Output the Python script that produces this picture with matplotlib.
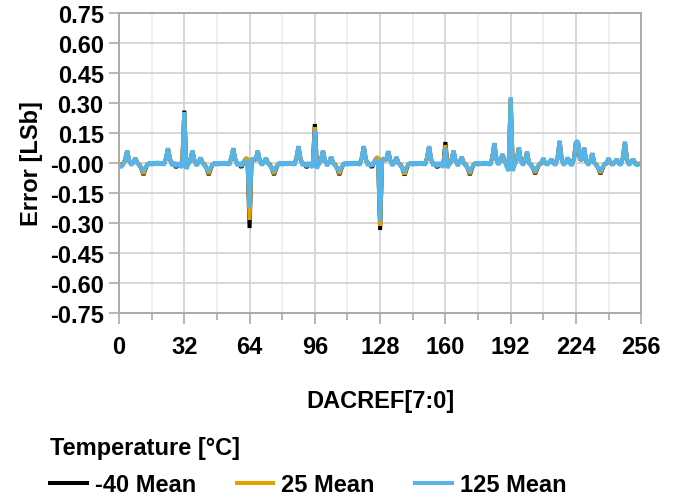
import matplotlib
matplotlib.use("Agg")
import matplotlib.pyplot as plt
import numpy as np
from matplotlib.ticker import MultipleLocator

plt.rcParams["font.family"] = ["Liberation Sans", "DejaVu Sans"]
plt.rcParams["font.weight"] = "bold"

FS = 17

# DACREF codes 0..255
codes = np.arange(256)

# 125 C mean error (top layer), one row per 32 codes
t125 = [
    -0.015, -0.020, -0.010, 0.020, 0.062, 0.015, -0.012, 0.004, 0.025, 0.000, -0.014, -0.028, -0.040, -0.020, -0.008, 0.004,
    -0.012, 0.005, -0.010, 0.006, -0.008, 0.004, -0.012, 0.025, 0.075, 0.020, -0.014, 0.004, -0.018, 0.002, -0.014, -0.022,
    0.255, -0.030, -0.006, 0.020, 0.062, 0.010, -0.015, 0.004, 0.028, -0.004, -0.014, -0.030, -0.042, -0.020, -0.008, 0.004,
    -0.012, 0.004, -0.010, 0.005, -0.008, 0.004, -0.012, 0.025, 0.075, 0.020, -0.014, 0.002, -0.016, 0.006, 0.016, -0.008,
    -0.220, 0.015, 0.022, 0.015, 0.062, 0.012, -0.012, 0.004, 0.026, -0.002, -0.014, -0.028, -0.042, -0.020, -0.008, 0.004,
    -0.012, 0.005, -0.010, 0.005, -0.008, 0.004, -0.012, 0.028, 0.085, 0.022, -0.014, 0.003, -0.018, 0.003, -0.014, -0.022,
    0.165, -0.028, -0.006, 0.020, 0.062, 0.010, -0.015, 0.004, 0.032, -0.004, -0.014, -0.030, -0.042, -0.020, -0.008, 0.004,
    -0.012, 0.004, -0.010, 0.005, -0.008, 0.004, -0.012, 0.028, 0.085, 0.020, -0.014, 0.002, -0.016, 0.006, 0.018, -0.006,
    -0.290, 0.020, 0.015, 0.018, 0.060, 0.012, -0.014, 0.004, 0.030, -0.002, -0.014, -0.028, -0.045, -0.020, -0.008, 0.004,
    -0.012, 0.005, -0.010, 0.004, -0.008, 0.004, -0.012, 0.028, 0.085, 0.020, -0.014, 0.003, -0.018, 0.003, -0.014, -0.020,
    0.075, -0.025, -0.006, 0.020, 0.062, 0.010, -0.015, 0.004, 0.032, -0.004, -0.014, -0.030, -0.045, -0.020, -0.008, 0.004,
    -0.012, 0.004, -0.010, 0.005, -0.008, 0.004, -0.012, 0.030, 0.100, 0.020, -0.010, 0.020, 0.045, 0.010, -0.020, -0.040,
    0.330, -0.040, -0.010, 0.020, 0.078, 0.012, -0.012, 0.010, 0.057, 0.000, -0.014, -0.028, -0.040, -0.020, -0.008, 0.004,
    0.024, 0.000, -0.010, 0.006, 0.020, 0.000, -0.012, 0.030, 0.112, 0.020, -0.012, 0.004, 0.028, 0.000, -0.014, 0.020,
    0.108, 0.108, 0.015, 0.020, 0.078, 0.010, -0.012, 0.010, 0.050, 0.000, -0.014, -0.028, -0.040, -0.020, -0.008, 0.004,
    0.024, -0.002, -0.010, 0.004, 0.020, 0.000, -0.012, 0.028, 0.107, 0.020, -0.012, 0.004, 0.020, -0.004, -0.012, -0.006,
]

# 25 C mean error
t25 = [
    -0.004, -0.008, -0.004, 0.015, 0.060, 0.012, -0.004, 0.002, 0.024, 0.000, -0.008, -0.025, -0.055, -0.025, -0.006, -0.002,
    -0.004, -0.002, -0.004, -0.002, -0.004, -0.002, -0.004, 0.022, 0.072, 0.018, -0.004, -0.006, -0.015, -0.006, -0.004, -0.008,
    0.255, -0.010, -0.004, 0.015, 0.060, 0.010, -0.004, 0.002, 0.026, 0.000, -0.008, -0.025, -0.055, -0.025, -0.006, -0.002,
    -0.004, -0.002, -0.004, -0.002, -0.004, -0.002, -0.004, 0.022, 0.072, 0.018, -0.004, -0.006, -0.015, 0.005, 0.022, 0.026,
    -0.285, 0.022, 0.018, 0.015, 0.060, 0.012, -0.004, 0.002, 0.024, 0.000, -0.008, -0.025, -0.055, -0.025, -0.006, -0.002,
    -0.004, -0.002, -0.004, -0.002, -0.004, -0.002, -0.004, 0.025, 0.082, 0.018, -0.004, -0.006, -0.015, -0.006, -0.004, -0.008,
    0.180, -0.010, -0.004, 0.015, 0.060, 0.010, -0.004, 0.002, 0.030, 0.000, -0.008, -0.025, -0.055, -0.025, -0.006, -0.002,
    -0.004, -0.002, -0.004, -0.002, -0.004, -0.002, -0.004, 0.025, 0.082, 0.018, -0.004, -0.006, -0.015, 0.005, 0.025, 0.030,
    -0.315, 0.025, 0.018, 0.015, 0.058, 0.012, -0.004, 0.002, 0.028, 0.000, -0.008, -0.025, -0.058, -0.025, -0.006, -0.002,
    -0.004, -0.002, -0.004, -0.002, -0.004, -0.002, -0.004, 0.025, 0.082, 0.018, -0.004, -0.006, -0.015, -0.006, -0.004, -0.008,
    0.090, -0.010, -0.004, 0.015, 0.060, 0.010, -0.004, 0.002, 0.030, 0.000, -0.008, -0.025, -0.055, -0.025, -0.006, -0.002,
    -0.004, -0.002, -0.004, -0.002, -0.004, -0.002, -0.004, 0.028, 0.097, 0.018, -0.004, 0.018, 0.043, 0.008, -0.006, -0.012,
    0.325, -0.012, -0.004, 0.018, 0.075, 0.012, -0.004, 0.008, 0.055, 0.000, -0.008, -0.025, -0.050, -0.025, -0.006, -0.002,
    0.022, -0.002, -0.004, 0.004, 0.018, -0.002, -0.004, 0.028, 0.108, 0.018, -0.004, 0.004, 0.026, -0.002, -0.004, 0.020,
    0.105, 0.105, 0.015, 0.018, 0.076, 0.010, -0.004, 0.008, 0.048, 0.000, -0.008, -0.025, -0.050, -0.025, -0.006, -0.002,
    0.022, -0.002, -0.004, 0.004, 0.018, -0.002, -0.004, 0.026, 0.104, 0.018, -0.004, 0.004, 0.020, -0.002, -0.004, -0.004,
]

# -40 C mean error
tm40 = [
    -0.004, -0.008, -0.004, 0.015, 0.060, 0.012, -0.004, 0.002, 0.024, 0.000, -0.008, -0.028, -0.060, -0.028, -0.006, -0.002,
    -0.004, -0.002, -0.004, -0.002, -0.004, -0.002, -0.004, 0.022, 0.072, 0.018, -0.004, -0.008, -0.022, -0.008, -0.004, -0.008,
    0.262, -0.010, -0.004, 0.015, 0.060, 0.010, -0.004, 0.002, 0.026, 0.000, -0.008, -0.028, -0.060, -0.028, -0.006, -0.002,
    -0.004, -0.002, -0.004, -0.002, -0.004, -0.002, -0.004, 0.022, 0.072, 0.018, -0.004, -0.008, -0.022, 0.002, 0.018, 0.020,
    -0.325, 0.018, 0.016, 0.015, 0.060, 0.012, -0.004, 0.002, 0.024, 0.000, -0.008, -0.028, -0.060, -0.028, -0.006, -0.002,
    -0.004, -0.002, -0.004, -0.002, -0.004, -0.002, -0.004, 0.025, 0.082, 0.018, -0.004, -0.008, -0.022, -0.008, -0.004, -0.008,
    0.195, -0.010, -0.004, 0.015, 0.060, 0.010, -0.004, 0.002, 0.030, 0.000, -0.008, -0.028, -0.060, -0.028, -0.006, -0.002,
    -0.004, -0.002, -0.004, -0.002, -0.004, -0.002, -0.004, 0.025, 0.082, 0.018, -0.004, -0.008, -0.022, 0.002, 0.020, 0.024,
    -0.335, 0.020, 0.016, 0.015, 0.058, 0.012, -0.004, 0.002, 0.028, 0.000, -0.008, -0.028, -0.062, -0.028, -0.006, -0.002,
    -0.004, -0.002, -0.004, -0.002, -0.004, -0.002, -0.004, 0.025, 0.082, 0.018, -0.004, -0.008, -0.022, -0.008, -0.004, -0.008,
    0.105, -0.010, -0.004, 0.015, 0.060, 0.010, -0.004, 0.002, 0.030, 0.000, -0.008, -0.028, -0.060, -0.028, -0.006, -0.002,
    -0.004, -0.002, -0.004, -0.002, -0.004, -0.002, -0.004, 0.028, 0.097, 0.018, -0.004, 0.018, 0.043, 0.008, -0.006, -0.012,
    0.320, -0.012, -0.004, 0.018, 0.075, 0.012, -0.004, 0.008, 0.055, 0.000, -0.008, -0.028, -0.055, -0.028, -0.006, -0.002,
    0.022, -0.002, -0.004, 0.004, 0.018, -0.002, -0.004, 0.028, 0.108, 0.018, -0.004, 0.004, 0.026, -0.002, -0.004, 0.020,
    0.105, 0.105, 0.015, 0.018, 0.076, 0.010, -0.004, 0.008, 0.048, 0.000, -0.008, -0.028, -0.055, -0.028, -0.006, -0.002,
    0.022, -0.002, -0.004, 0.004, 0.018, -0.002, -0.004, 0.026, 0.104, 0.018, -0.004, 0.004, 0.020, -0.002, -0.004, -0.004,
]

series = [("-40 Mean", tm40, "#000000"),
          ("25 Mean", t25, "#E69F00"),
          ("125 Mean", t125, "#56B4E9")]

fig = plt.figure(figsize=(6.8, 5.02), dpi=100)
ax = fig.add_axes([0.175, 0.3745, 0.768, 0.5975])

for name, vals, color in series:
    ax.plot(codes, vals, color=color, linewidth=2.9, label=name,
            solid_joinstyle="bevel")

ax.set_xlim(0, 256)
ax.set_ylim(-0.75, 0.75)
ax.xaxis.set_major_locator(MultipleLocator(32))
ax.xaxis.set_minor_locator(MultipleLocator(16))
ax.yaxis.set_major_locator(MultipleLocator(0.15))
ax.yaxis.set_major_formatter(lambda v, p: f"{v:.2f}")

ax.grid(which="major", color="#d6d6d6", linewidth=1.4)
ax.grid(which="minor", axis="x", color="#ececec", linewidth=1.2)
ax.set_axisbelow(True)
for sp in ax.spines.values():
    sp.set_color("#aaaaaa")
    sp.set_linewidth(1.4)
ax.tick_params(axis="both", which="major", colors="#aaaaaa", width=1.2,
               labelcolor="black", labelsize=FS)
ax.tick_params(axis="x", which="major", length=8, pad=8)
ax.tick_params(axis="x", which="minor", length=5, width=1.2, colors="#aaaaaa")
ax.tick_params(axis="y", which="major", length=7, pad=4)

ax.set_xlabel("DACREF[7:0]", fontsize=FS, fontweight="bold", labelpad=22)
ax.set_ylabel("Error [LSb]", fontsize=FS, fontweight="bold", labelpad=5)

leg = fig.legend(loc="upper left", bbox_to_anchor=(0.074, 0.13), ncol=3,
                 frameon=False, fontsize=FS, title="Temperature [°C]",
                 title_fontproperties={"weight": "bold", "size": FS},
                 alignment="left", handlelength=1.55, handletextpad=0.35,
                 columnspacing=1.7, borderaxespad=0, borderpad=0,
                 labelspacing=0.6)
for line in leg.get_lines():
    line.set_linewidth(2.9)

fig.savefig("out.png", dpi=100)
